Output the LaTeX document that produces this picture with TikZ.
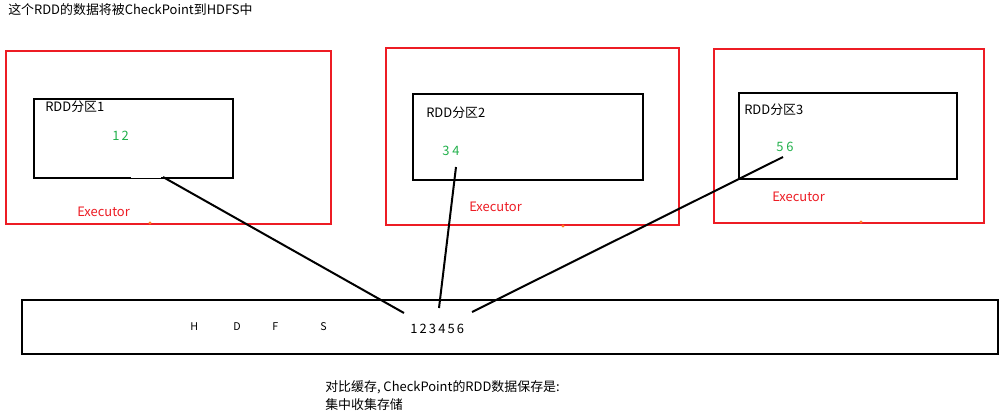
\documentclass[tikz,border=0pt]{standalone}
\usepackage{fontspec}
\setmainfont{Noto Sans CJK SC}
\definecolor{pred}{RGB}{237,28,36}
\definecolor{pgreen}{RGB}{34,177,76}
\definecolor{porange}{RGB}{255,127,39}
\begin{document}
\begin{tikzpicture}[x=0.75pt,y=-0.75pt,
  execbox/.style={draw=pred, line width=1.5pt, rectangle, inner sep=0pt, anchor=north west},
  rddbox/.style={draw=black, line width=1.5pt, rectangle, inner sep=0pt, anchor=north west},
  hdfsbox/.style={draw=black, line width=1.8pt, rectangle, inner sep=0pt, anchor=north west},
  txt/.style={anchor=west, inner sep=0pt, font=\fontsize{9.7pt}{12pt}\selectfont},
  gtxt/.style={txt, text=pgreen},
  rtxt/.style={txt, text=pred},
  htxt/.style={anchor=west, inner sep=0pt, font=\fontsize{8pt}{10pt}\selectfont},
  link/.style={draw=black, line width=1.5pt},
  dot/.style={circle, fill=porange, inner sep=0pt, minimum size=2.5pt}
]
\fill[white] (0,0) rectangle (1002,414);
\useasboundingbox (0,0) rectangle (1002,414);

\node[txt] (title) at (8,10) {这个RDD的数据将被CheckPoint到HDFS中};

% executors
\node[execbox, minimum width=325*0.75pt, minimum height=173*0.75pt] (e1) at (5,50) {};
\node[execbox, minimum width=293*0.75pt, minimum height=177*0.75pt] (e2) at (385,47) {};
\node[execbox, minimum width=270*0.75pt, minimum height=174*0.75pt] (e3) at (713,48) {};

% rdd partitions
\node[rddbox, minimum width=199*0.75pt, minimum height=79*0.75pt] (b1) at (33,98) {};
\node[rddbox, minimum width=230*0.75pt, minimum height=86*0.75pt] (b2) at (412,93) {};
\node[rddbox, minimum width=218*0.75pt, minimum height=86*0.75pt] (b3) at (738,92) {};
\draw[white, line width=2.2pt] (131,177) -- (161,177);

\node[txt] (l1) at (45,107) {RDD分区1};
\node[gtxt] (d1) at (112,136) {1\,2};
\node[rtxt] (x1) at (77,212) {Executor};
\node[dot] (o1) at (150,223) {};

\node[txt] (l2) at (426,113) {RDD分区2};
\node[gtxt] (d2) at (442,151) {3 4};
\node[rtxt] (x2) at (469,207) {Executor};
\node[dot] (o2) at (563,226) {};

\node[txt] (l3) at (744,110) {RDD分区3};
\node[gtxt] (d3) at (776,147) {5 6};
\node[rtxt] (x3) at (772,197) {Executor};
\node[dot] (o3) at (861,222) {};

% HDFS
\node[hdfsbox, minimum width=976*0.75pt, minimum height=54*0.75pt] (hdfs) at (21,299) {};
\node[htxt] (hH) at (190,327) {H};
\node[htxt] (hD) at (233,327) {D};
\node[htxt] (hF) at (272,327) {F};
\node[htxt] (hS) at (320,327) {S};
\node[txt] (nums) at (410,329) {1\,2\,3\,4\,5\,6};

% connectors
\coordinate (s1) at (163,177);
\coordinate (s2) at (456,167);
\coordinate (s3) at (783,157);
\coordinate (t1) at (404,313);
\coordinate (t2) at (439,308);
\coordinate (t3) at (472,312);
\draw[link] (s1) -- (t1);
\draw[link] (s2) -- (t2);
\draw[link] (s3) -- (t3);

\node[txt] (n1) at (325,387) {对比缓存, CheckPoint的RDD数据保存是:};
\node[txt] (n2) at (325,405) {集中收集存储};
\end{tikzpicture}
\end{document}
